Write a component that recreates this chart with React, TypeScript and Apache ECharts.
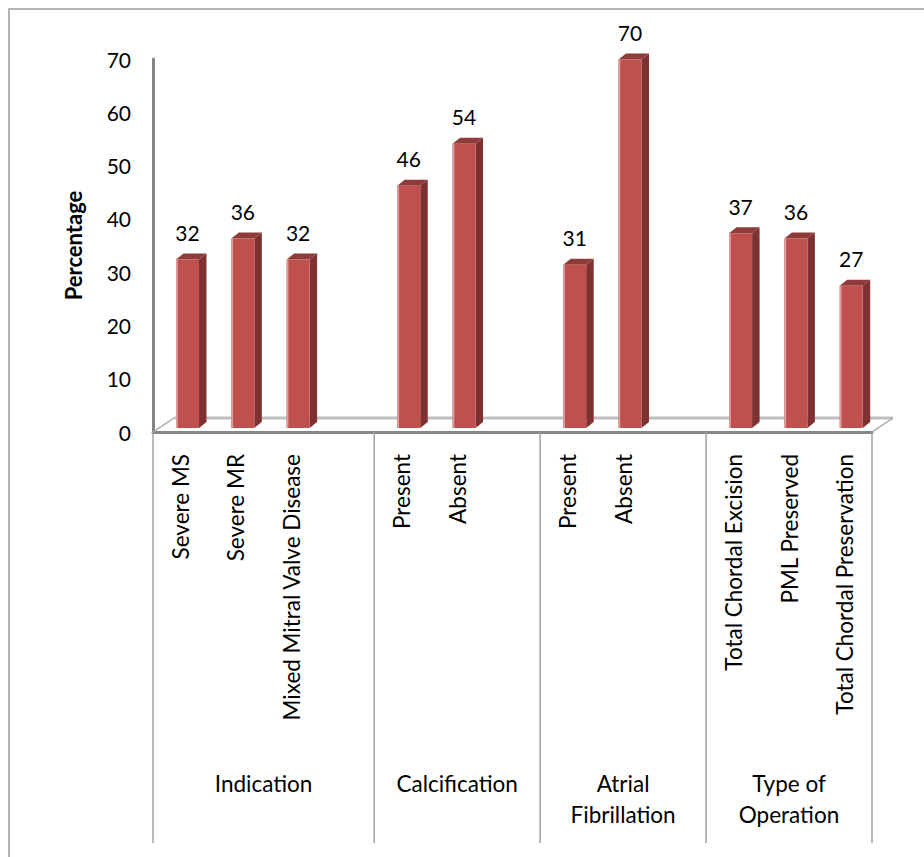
import React, { useEffect, useRef } from "react";
import * as echarts from "echarts";

const subCategories = [
  "Severe MS",
  "Severe MR",
  "Mixed Mitral Valve Disease",
  "",
  "Present",
  "Absent",
  "",
  "Present",
  "Absent",
  "",
  "Total Chordal Excision",
  "PML Preserved",
  "Total Chordal Preservation",
];
const values: (number | null)[] = [32, 36, 32, null, 46, 54, null, 31, 70, null, 37, 36, 27];
const groupNames = ["Indication", "Calcification", "Atrial\nFibrillation", "Type of\nOperation"];
const groupFirst = [0, 4, 7, 10];
const groupLast = [3, 6, 9, 12];
const yMin = 0;
const yMax = 70;
const yStep = 10;
const yTitle = "Percentage";

const FONT = "Lato, 'Liberation Sans', sans-serif";
const FS_NUM = 21;
const FS_TXT = 22.5;

export default function App() {
  const ref = useRef<HTMLDivElement>(null);
  useEffect(() => {
    const chart = echarts.init(ref.current!, null, { renderer: "svg" });
    const barData = values
      .map((v, i) => (v == null ? null : [i, v]))
      .filter((d) => d != null);

    chart.setOption({
      animation: false,
      backgroundColor: "#ffffff",
      graphic: [
        {
          type: "polyline",
          shape: { points: [[9, 900], [9, 9], [1000, 9]] },
          style: { stroke: "#9a9a9a", lineWidth: 1.5, fill: "none" },
          silent: true,
        },
      ],
      grid: { left: 153, top: 59, width: 719, height: 373 },
      xAxis: {
        type: "category",
        data: subCategories,
        boundaryGap: true,
        axisLine: { show: true, lineStyle: { color: "#868686", width: 3 } },
        axisTick: { show: false },
        axisLabel: {
          rotate: 90,
          interval: 0,
          margin: 22,
          fontSize: FS_TXT,
          fontFamily: FONT,
          color: "#000",
        },
        splitLine: { show: false },
      },
      yAxis: {
        type: "value",
        min: yMin,
        max: yMax,
        interval: yStep,
        name: yTitle,
        nameLocation: "middle",
        nameRotate: 90,
        nameGap: 69,
        nameTextStyle: { fontSize: 22, fontWeight: "bold", fontFamily: FONT, color: "#000" },
        axisLine: { show: true, lineStyle: { color: "#868686", width: 3 } },
        axisTick: { show: false },
        splitLine: { show: false },
        axisLabel: { margin: 22, fontSize: FS_NUM, fontFamily: FONT, color: "#000" },
      },
      series: [
        {
          type: "custom",
          z: 1,
          silent: true,
          data: [[0, 0]],
          encode: { x: 0, y: 1 },
          renderItem: (params: any, api: any) => {
            const bw = api.size([1, 0])[0];
            const p0 = api.coord([0, 0]);
            const yZero = p0[1];
            const left = p0[0] - bw / 2;
            const right = api.coord([subCategories.length - 1, 0])[0] + bw / 2;
            const dx = 21;
            const dy = -14;
            const children: any[] = [];
            children.push({
              type: "line",
              shape: { x1: left + dx, y1: yZero + dy, x2: right + dx, y2: yZero + dy },
              style: { stroke: "#BFBFBF", lineWidth: 3 },
            });
            children.push({
              type: "line",
              shape: { x1: left, y1: yZero, x2: left + dx, y2: yZero + dy },
              style: { stroke: "#A6A6A6", lineWidth: 1.5 },
            });
            children.push({
              type: "line",
              shape: { x1: right, y1: yZero, x2: right + dx, y2: yZero + dy },
              style: { stroke: "#A6A6A6", lineWidth: 1.5 },
            });
            const bounds = [left].concat(groupLast.map((g) => api.coord([g, 0])[0] + bw / 2));
            bounds.forEach((bx) => {
              children.push({
                type: "line",
                shape: { x1: bx, y1: yZero, x2: bx, y2: yZero + 411 },
                style: { stroke: "#A0A0A0", lineWidth: 1.5 },
              });
            });
            groupNames.forEach((name, gi) => {
              const gl = api.coord([groupFirst[gi], 0])[0] - bw / 2;
              const gr = api.coord([groupLast[gi], 0])[0] + bw / 2;
              children.push({
                type: "text",
                style: {
                  text: name,
                  x: (gl + gr) / 2,
                  y: yZero + 336,
                  textAlign: "center",
                  textVerticalAlign: "top",
                  align: "center",
                  verticalAlign: "top",
                  lineHeight: 31,
                  fontSize: FS_TXT,
                  fontFamily: FONT,
                  fill: "#000",
                },
              });
            });
            return { type: "group", children };
          },
        },
        {
          type: "custom",
          z: 2,
          silent: true,
          data: barData,
          encode: { x: 0, y: 1 },
          renderItem: (params: any, api: any) => {
            const i = api.value(0);
            const v = api.value(1);
            const bw = api.size([1, 0])[0];
            const pt = api.coord([i, v]);
            const p0 = api.coord([i, 0]);
            const cx = pt[0];
            const base = p0[1] - 4;
            const top = base - (p0[1] - pt[1]) * 0.988;
            const fl = cx - bw * 0.084;
            const fw = bw * 0.416;
            const fr = fl + fw;
            const ddx = 7.5;
            const ddy = -6;
            return {
              type: "group",
              children: [
                {
                  type: "polygon",
                  shape: {
                    points: [
                      [fr, top],
                      [fr + ddx, top + ddy],
                      [fr + ddx, base + ddy],
                      [fr, base],
                    ],
                  },
                  style: { fill: "#7D3231" },
                },
                {
                  type: "polygon",
                  shape: {
                    points: [
                      [fl, top],
                      [fl + ddx, top + ddy],
                      [fr + ddx, top + ddy],
                      [fr, top],
                    ],
                  },
                  style: { fill: "#8E3B39" },
                },
                {
                  type: "rect",
                  shape: { x: fl, y: top, width: fw, height: base - top },
                  style: { fill: "#C0504D" },
                },
                {
                  type: "rect",
                  shape: { x: fl, y: top, width: 1.8, height: base - top },
                  style: { fill: "#DE9D9B" },
                },
                {
                  type: "text",
                  style: {
                    text: String(v),
                    x: fl + fw / 2,
                    y: top - 27,
                    textAlign: "center",
                    textVerticalAlign: "middle",
                    align: "center",
                    verticalAlign: "middle",
                    fontSize: FS_NUM,
                    fontFamily: FONT,
                    fill: "#000",
                  },
                },
              ],
            };
          },
        },
      ],
    });
    return () => chart.dispose();
  }, []);
  return (
    <div
      ref={ref}
      style={{ position: "absolute", left: 0, top: 0, width: 924, height: 857 }}
    />
  );
}
